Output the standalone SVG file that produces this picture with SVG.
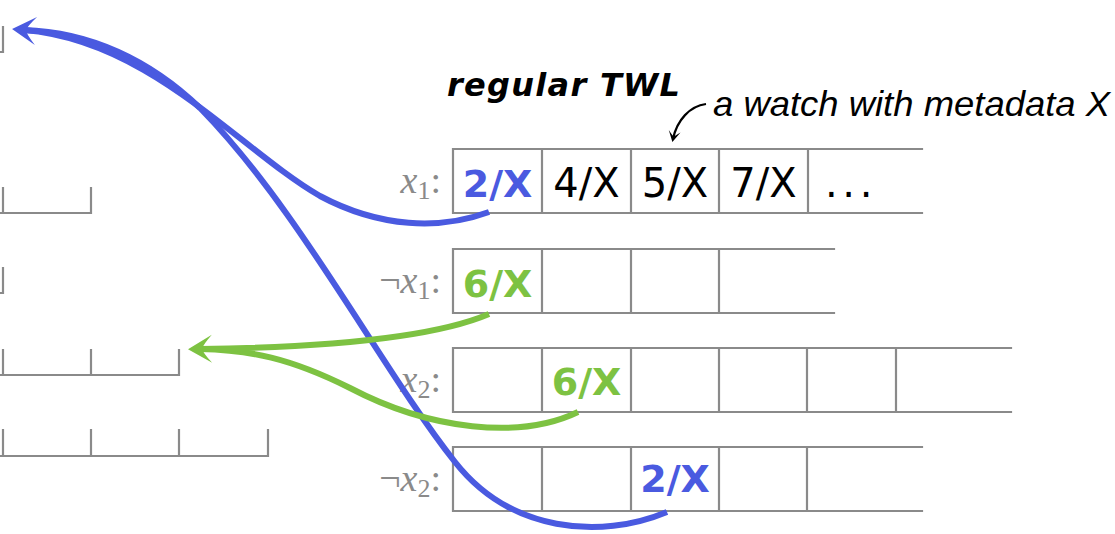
<svg xmlns="http://www.w3.org/2000/svg" width="1115" height="534" viewBox="0 0 1115 534">
<style>
.grid{fill:none;stroke:#8a8a8a;stroke-width:2.2;stroke-linecap:square}
.cell{font-family:"DejaVu Sans",sans-serif;font-size:40px;text-anchor:middle;fill:#000}
.hl{font-weight:bold;font-size:38px}
.blue{fill:#4a5ae0}
.green{fill:#7dc242}
.lbl{font-family:"Liberation Serif",serif;font-size:38px;fill:#8a8a8a;text-anchor:end}
.lbl .v{font-style:italic}
.lbl .s{font-size:26px}
.wire{fill:none;stroke-width:6;stroke-linecap:butt}
.wb{stroke:#4a5ae0}
.wg{stroke:#7dc242}
</style>
<defs>
<marker id="ab" markerUnits="userSpaceOnUse" viewBox="-30 -16 32 32" markerWidth="32" markerHeight="32" refX="-12" refY="0" orient="auto">
<path d="M0,0 L-24,-14 Q-15,-4 -14,0 Q-15,4 -24,14 Z" fill="#4a5ae0"/>
</marker>
<marker id="ag" markerUnits="userSpaceOnUse" viewBox="-30 -16 32 32" markerWidth="32" markerHeight="32" refX="-12" refY="0" orient="auto">
<path d="M0,0 L-24,-14 Q-15,-4 -14,0 Q-15,4 -24,14 Z" fill="#7dc242"/>
</marker>
<marker id="ak" markerUnits="userSpaceOnUse" viewBox="-14 -8 16 16" markerWidth="16" markerHeight="16" refX="-3" refY="0" orient="auto">
<path d="M0,0 L-11,-6 Q-6,-1 -6,0 Q-6,1 -11,6 Z" fill="#000"/>
</marker>
</defs>
<rect width="1115" height="534" fill="#fff"/>

<g id="left-lists">
<path class="grid" d="M3,27 V52 H0"/>
<path class="grid" d="M3,188 V213 M91,188 V213 M0,213 H91"/>
<path class="grid" d="M3,268 V293 H0"/>
<path class="grid" d="M3,350 V375 M91,350 V375 M179,350 V375 M0,375 H179"/>
<path class="grid" d="M3,430 V456 M91,430 V456 M179,430 V456 M268,430 V456 M0,456 H268"/>
</g>

<g id="title">
<text x="447" y="96" font-family="DejaVu Sans, sans-serif" font-weight="bold" font-style="italic" font-size="32" textLength="233" lengthAdjust="spacing">regular TWL</text>
</g>

<g id="annotation">
<text x="713" y="116" font-family="Liberation Sans, sans-serif" font-style="italic" font-size="35" textLength="397" lengthAdjust="spacingAndGlyphs">a watch with metadata X</text>
</g>

<g id="row-x1">
<text class="lbl" x="441" y="193"><tspan class="v">x</tspan><tspan class="s" dy="6">1</tspan><tspan dy="-6">:</tspan></text>
<path class="grid" d="M453,149 H922 M453,213 H922 M453,149 V213 M542,149 V213 M631,149 V213 M719,149 V213 M808,149 V213"/>
<text class="cell hl blue" x="497.5" y="197">2/X</text>
<text class="cell" x="586.5" y="197">4/X</text>
<text class="cell" x="675" y="197">5/X</text>
<text class="cell" x="763.5" y="197">7/X</text>
<text class="cell" x="851" y="197" letter-spacing="4.6">...</text>
</g>

<g id="row-not-x1">
<text class="lbl" x="441" y="293"><tspan>¬</tspan><tspan class="v">x</tspan><tspan class="s" dy="6">1</tspan><tspan dy="-6">:</tspan></text>
<path class="grid" d="M453,249 H834 M453,313 H834 M453,249 V313 M542,249 V313 M631,249 V313 M719,249 V313"/>
<text class="cell hl green" x="497.5" y="297">6/X</text>
</g>

<g id="row-x2">
<text class="lbl" x="441" y="392"><tspan class="v">x</tspan><tspan class="s" dy="6">2</tspan><tspan dy="-6">:</tspan></text>
<path class="grid" d="M453,348 H1011 M453,412 H1011 M453,348 V412 M542,348 V412 M631,348 V412 M719,348 V412 M807,348 V412 M896,348 V412"/>
<text class="cell hl green" x="586.5" y="395">6/X</text>
</g>

<g id="row-not-x2">
<text class="lbl" x="441" y="491"><tspan>¬</tspan><tspan class="v">x</tspan><tspan class="s" dy="6">2</tspan><tspan dy="-6">:</tspan></text>
<path class="grid" d="M453,447 H922 M453,511 H922 M453,447 V511 M542,447 V511 M631,447 V511 M719,447 V511 M807,447 V511"/>
<text class="cell hl blue" x="675" y="492">2/X</text>
</g>

<g id="connectors">
<path fill="none" stroke="#000" stroke-width="2.2" d="M706,104 C690,106 677,120 673,139" marker-end="url(#ak)"/>
<path class="wire wb" d="M667,512 C600,540 510,532 455,462 C380,367 300,210 200,108 C150,60 90,32 24,30"/>
<path class="wire wb" d="M489,212 C440,230 380,228 320,196 C240,150 150,40 24,30" marker-end="url(#ab)"/>
<path class="wire wg" d="M578,412 C520,440 430,430 350,388 C290,358 250,350 200,349"/>
<path class="wire wg" d="M489,314 C440,335 350,347 200,349" marker-end="url(#ag)"/>
</g>
</svg>
